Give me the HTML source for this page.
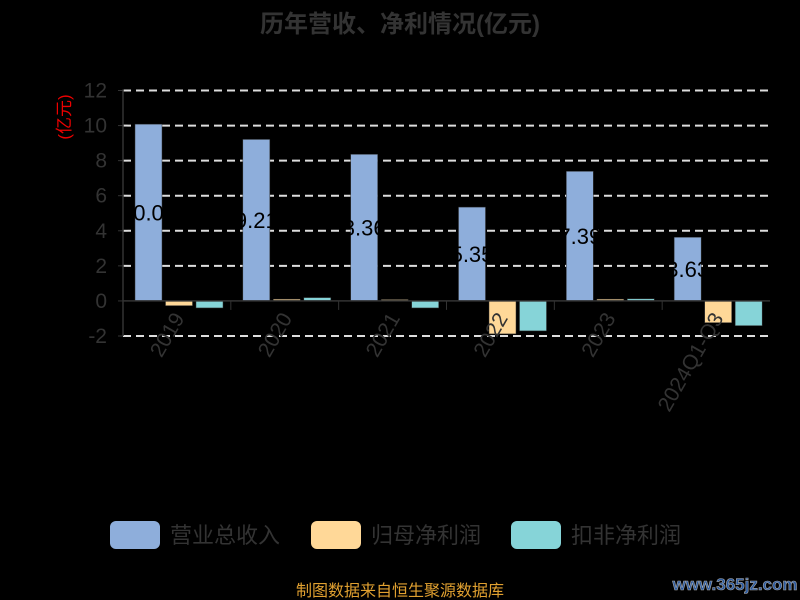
<!DOCTYPE html>
<html><head><meta charset="utf-8"><style>
body{margin:0;background:#000;}
svg{display:block;font-family:"Liberation Sans","Noto Sans CJK SC",sans-serif;}
</style></head><body>
<svg width="800" height="600" xmlns="http://www.w3.org/2000/svg">
<rect width="800" height="600" fill="#000"/>
<text x="400" y="32" text-anchor="middle" font-size="24" font-weight="bold" fill="#333">历年营收、净利情况(亿元)</text>
<text transform="translate(70,117) rotate(-90)" text-anchor="middle" font-size="17" fill="#e00">(亿元)</text>
<g id="grid"></g><g id="bars"></g><g id="axes"></g>
<g>
<g><rect x="110" y="521" width="50" height="28" rx="6" fill="#8eaedb"/><text x="170" y="543" font-size="22" fill="#333">营业总收入</text></g>
<g><rect x="311" y="521" width="50" height="28" rx="6" fill="#ffd898"/><text x="371" y="543" font-size="22" fill="#333">归母净利润</text></g>
<g><rect x="511" y="521" width="50" height="28" rx="6" fill="#86d4d8"/><text x="571" y="543" font-size="22" fill="#333">扣非净利润</text></g>
</g>
<text x="400" y="596" text-anchor="middle" font-size="16" fill="#e0a030">制图数据来自恒生聚源数据库</text>
<text x="735" y="590" text-anchor="middle" font-size="17" font-weight="bold" fill="#2a5aa0" stroke="#aaa" stroke-width="0.6">www.365jz.com</text>
</svg>
<script>
const categories=["2019","2020","2021","2022","2023","2024Q1-Q3"];
const revenue=[10.08,9.21,8.36,5.35,7.39,3.63];
const netProfit=[-0.27,0.1,0.08,-1.88,0.1,-1.24];
const deducted=[-0.4,0.19,-0.4,-1.71,0.12,-1.41];
const yTicks=[-2,0,2,4,6,8,10,12];
const NS="http://www.w3.org/2000/svg";
const x0=123,x1=770,yTop=90.5,yBot=336;
const ymin=-2,ymax=12;
const y=v=>yBot-(v-ymin)/(ymax-ymin)*(yBot-yTop);
const cw=(x1-x0)/categories.length;
function mk(tag,attrs,parent,txt){const e=document.createElementNS(NS,tag);for(const k in attrs)e.setAttribute(k,attrs[k]);if(txt!==undefined)e.textContent=txt;parent.appendChild(e);return e;}
const grid=document.getElementById('grid'),bars=document.getElementById('bars'),axes=document.getElementById('axes');
yTicks.forEach(t=>{
  if(t!==0){const l=mk('line',{x1:x0,x2:x1,y1:y(t),y2:y(t),stroke:'#ddd','stroke-width':2,'stroke-dasharray':'8,5'},grid);
  }
  const tx=mk('text',{x:x0-16,y:y(t)+7,'text-anchor':'end','font-size':21,fill:'#333'},axes,String(t));
  
  const tk=mk('line',{x1:x0-5,x2:x0,y1:y(t),y2:y(t),stroke:'#333'},axes);
  
});
const series=[[revenue,'#8eaedb','revenue'],[netProfit,'#ffd898','net-profit'],[deducted,'#86d4d8','deducted-profit']];
const bw=27,gap=3.5;
categories.forEach((c,i)=>{
  const start=x0+cw*i+12;
  series.forEach((s,j)=>{
    const v=s[0][i];const bx=start+j*(bw+gap);
    const top=Math.min(y(v),y(0)),h=Math.abs(y(v)-y(0));
    const r=mk('rect',{x:bx,y:top,width:bw,height:Math.max(h,1),fill:s[1],stroke:'#333','stroke-width':0.5},bars);
    
  });
  const lb=mk('text',{x:start+bw/2,y:(y(revenue[i])+y(0))/2+8,'text-anchor':'middle','font-size':22,fill:'#000'},bars,revenue[i].toFixed(2));
  
  const cx=x0+cw*(i+0.5);
  const xl=mk('text',{transform:`translate(${cx+8},${318}) rotate(-60)`,'text-anchor':'end','font-size':21,fill:'#333'},axes,c);
  
  const xt=mk('line',{x1:x0+cw*i,x2:x0+cw*i,y1:y(0),y2:y(0)+9,stroke:'#333'},axes);
  
});
const xa=mk('line',{x1:x0,x2:x1,y1:y(0),y2:y(0),stroke:'#333','stroke-width':1.5},axes);

const ya=mk('line',{x1:x0,x2:x0,y1:yTop-1,y2:yBot,stroke:'#333','stroke-width':1.5},axes);

</script>
</body></html>
